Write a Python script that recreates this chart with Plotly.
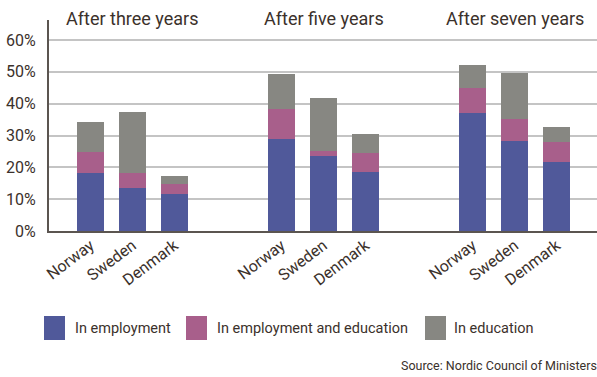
import plotly.graph_objects as go

# Share of young people by status, per country and years after leaving school (%)
periods = ["After three years", "After five years", "After seven years"]
countries = ["Norway", "Sweden", "Denmark"]
in_employment = [18.3, 13.5, 11.7, 28.9, 23.7, 18.5, 37.1, 28.3, 21.7]
in_emp_and_edu = [6.5, 4.7, 3.2, 9.5, 1.4, 6.0, 7.8, 7.0, 6.3]
in_education = [9.5, 19.2, 2.5, 10.9, 16.7, 6.0, 7.3, 14.4, 4.7]
y_ticks = [0, 10, 20, 30, 40, 50, 60]

series = [
    ("In employment", in_employment, "#50599a"),
    ("In employment and education", in_emp_and_edu, "#a85f8b"),
    ("In education", in_education, "#878782"),
]

GROUP_GAP = 4.55  # slot offset between period groups
xpos = [g * GROUP_GAP + c for g in range(len(periods)) for c in range(len(countries))]
xlabels = countries * len(periods)

FONT = "Roboto, sans-serif"
TEXT = "#3b312b"

fig = go.Figure()
for name, vals, color in series:
    fig.add_trace(go.Bar(x=xpos, y=vals, name=name, marker=dict(color=color, line=dict(width=0)),
                         width=0.643, showlegend=False))

fig.update_layout(
    barmode="stack",
    width=597, height=377,
    margin=dict(l=49, r=0, t=20, b=146),
    paper_bgcolor="white", plot_bgcolor="white",
    font=dict(family=FONT, color=TEXT, size=16),
)
fig.update_xaxes(
    range=[-0.988, 12.06], tickvals=xpos, ticktext=xlabels, tickangle=-37,
    showgrid=False, showline=True, linecolor="#5b5550", linewidth=2,
    ticks="", ticklabelstandoff=-3, tickfont=dict(size=16, color=TEXT, family=FONT), zeroline=False,
)
fig.update_yaxes(
    range=[0, 66.3], tickvals=y_ticks, ticktext=[f"{v}%" for v in y_ticks],
    showgrid=True, gridcolor="#c4c4c4", gridwidth=1.5,
    showline=True, linecolor="#5b5550", linewidth=2, zeroline=False,
    ticks="", ticklabelstandoff=8, tickfont=dict(size=16, color=TEXT, family=FONT),
)

# Period headings centred over each group
for g, title in enumerate(periods):
    fig.add_annotation(x=g * GROUP_GAP + 1, xref="x", y=1.0, yref="paper", yanchor="bottom",
                       text=title, showarrow=False, font=dict(size=18, color=TEXT, family=FONT), yshift=-11)

# Legend drawn with large swatches
legend_items = [(44, 73), (186, 215), (425, 452)]
for (sx, tx), (name, _, color) in zip(legend_items, series):
    fig.add_shape(type="rect", xref="paper", yref="paper",
                  x0=(sx - 49) / 548, x1=(sx + 21 - 49) / 548,
                  y0=(231 - 340) / 211, y1=(231 - 316) / 211,
                  fillcolor=color, line=dict(width=0))
    fig.add_annotation(x=(tx - 49) / 548, xref="paper", y=(231 - 328) / 211, yref="paper",
                       xanchor="left", yanchor="middle", text=name, showarrow=False,
                       font=dict(size=14.5, color=TEXT, family=FONT))

fig.add_annotation(x=1.0, xref="paper", y=(231 - 366) / 211, yref="paper", xanchor="right",
                   yanchor="middle", text="Source: Nordic Council of Ministers", showarrow=False,
                   font=dict(size=12.5, color=TEXT, family=FONT), xshift=2)

fig.write_html("out.html")
